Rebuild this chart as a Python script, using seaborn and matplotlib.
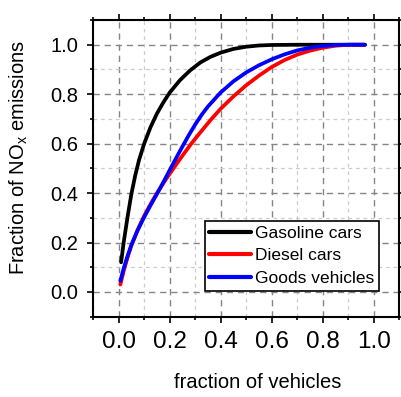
import numpy as np
import pandas as pd
import matplotlib
matplotlib.use("Agg")
import matplotlib.pyplot as plt
from matplotlib.ticker import MultipleLocator
import seaborn as sns

# ---- data ----
gas_x = [0.01, 0.02, 0.035, 0.05, 0.065, 0.08, 0.10, 0.125, 0.15, 0.175, 0.20, 0.24, 0.28,
         0.32, 0.36, 0.40, 0.45, 0.50, 0.55, 0.60, 0.70, 0.80, 0.965]
gas_y = [0.12, 0.20, 0.302, 0.395, 0.47, 0.533, 0.599, 0.666, 0.721, 0.766, 0.806, 0.856, 0.896,
         0.928, 0.951, 0.968, 0.983, 0.992, 0.997, 0.999, 1.0, 1.0, 1.0]

die_x = [0.007, 0.02, 0.035, 0.05, 0.075, 0.10, 0.125, 0.15, 0.185, 0.22, 0.25, 0.285, 0.32,
         0.36, 0.40, 0.45, 0.50, 0.55, 0.60, 0.65, 0.70, 0.75, 0.80, 0.85, 0.90, 0.965]
die_y = [0.03, 0.085, 0.139, 0.187, 0.252, 0.307, 0.355, 0.399, 0.455, 0.507, 0.551, 0.600, 0.645,
         0.695, 0.741, 0.791, 0.836, 0.875, 0.910, 0.938, 0.960, 0.976, 0.988, 0.996, 1.0, 1.0]

goods_x = [0.007, 0.02, 0.035, 0.05, 0.075, 0.10, 0.125, 0.155, 0.18, 0.205, 0.23, 0.25, 0.275,
           0.30, 0.325, 0.35, 0.40, 0.45, 0.50, 0.55, 0.60, 0.65, 0.70, 0.75, 0.80, 0.85, 0.90, 0.965]
goods_y = [0.045, 0.095, 0.145, 0.19, 0.25, 0.302, 0.35, 0.405, 0.453, 0.502, 0.55, 0.588, 0.634,
           0.677, 0.716, 0.75, 0.807, 0.852, 0.888, 0.917, 0.941, 0.961, 0.977, 0.988, 0.995, 0.999, 1.0, 1.0]

series_names = ["Gasoline cars", "Diesel cars", "Goods vehicles"]
series_colors = ["#000000", "#ff0000", "#0000ff"]

x_ticks = [0.0, 0.2, 0.4, 0.6, 0.8, 1.0]
y_ticks = [0.0, 0.2, 0.4, 0.6, 0.8, 1.0]

sns.set_style("white")
plt.rcParams["font.family"] = ["Liberation Sans", "DejaVu Sans"]
plt.rcParams["mathtext.default"] = "regular"
plt.rcParams["text.color"] = "black"
plt.rcParams["axes.labelcolor"] = "black"
plt.rcParams["xtick.color"] = "black"
plt.rcParams["ytick.color"] = "black"

fig = plt.figure(figsize=(4.01, 3.97), dpi=100)
ax = fig.add_axes([0.232, 0.2023, 0.764, 0.7473])

data = [(gas_x, gas_y), (die_x, die_y), (goods_x, goods_y)]
for (xs, ys), name, col in zip(data, series_names, series_colors):
    df = pd.DataFrame({"x": xs, "y": ys})
    sns.lineplot(data=df, x="x", y="y", ax=ax, color=col, lw=2.7, label=name,
                 sort=False, estimator=None, zorder=3)

ax.set_xlim(-0.1, 1.1)
ax.set_ylim(-0.1, 1.1)
ax.set_xticks(x_ticks)
ax.set_yticks(y_ticks)
ax.set_xticklabels([f"{v:.1f}" for v in x_ticks])
ax.set_yticklabels([f"{v:.1f}" for v in y_ticks])
ax.xaxis.set_minor_locator(MultipleLocator(0.1))
ax.yaxis.set_minor_locator(MultipleLocator(0.1))

ax.grid(True, which="major", color="#858585", linestyle=(0, (4.5, 3.5)), lw=1.0, zorder=0)
ax.grid(True, which="minor", color="#cccccc", linestyle=(0, (3, 3)), lw=0.9, zorder=0)
ax.set_axisbelow(True)

for s in ax.spines.values():
    s.set_linewidth(1.5)
    s.set_color("black")

ax.tick_params(which="major", direction="out", length=4, width=1.2, color="black",
               top=True, right=True, bottom=True, left=True)
ax.tick_params(which="minor", direction="out", length=2.5, width=1.2, color="black",
               top=True, right=True, bottom=True, left=True)
ax.tick_params(axis="x", which="major", labelsize=17.5, pad=6.5, labelcolor="black")
ax.tick_params(axis="y", which="major", labelsize=14.5, pad=6.5, labelcolor="black")

ax.set_xlabel("fraction of vehicles", fontsize=14.5, color="black")
ax.set_ylabel("Fraction of NO$_x$ emissions", fontsize=14.5, color="black")
ax.xaxis.set_label_coords(0.538, -0.191)
ax.yaxis.set_label_coords(-0.205, 0.537)

leg = ax.legend(loc="lower right", bbox_to_anchor=(0.935, 0.088), borderaxespad=0,
                fontsize=12.5, frameon=True, fancybox=False, handlelength=2.4,
                handletextpad=0.25, labelspacing=0.42, borderpad=0.28)
leg.get_frame().set_edgecolor("black")
leg.get_frame().set_linewidth(1.2)
leg.get_frame().set_alpha(1)
for h in leg.get_lines():
    h.set_linewidth(3.0)
for t in leg.get_texts():
    t.set_color("black")

fig.savefig("out.png", dpi=100)
